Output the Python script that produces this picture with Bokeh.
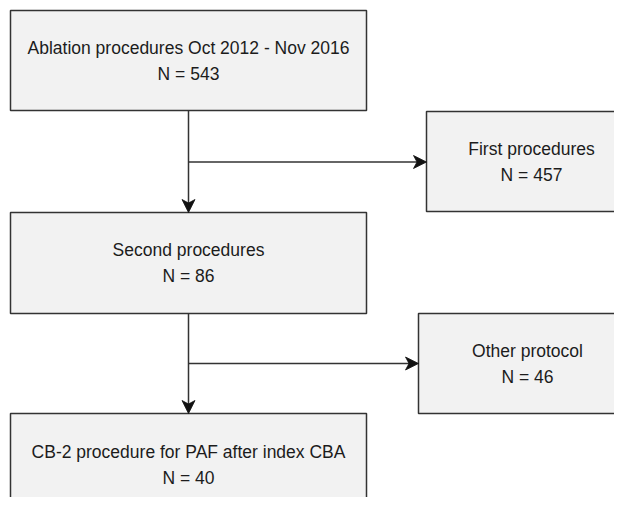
from bokeh.plotting import figure
from bokeh.models import ColumnDataSource, Range1d
from bokeh.core.properties import value
from bokeh.embed import file_html
from bokeh.resources import INLINE

# ---- data ----
titles = [
    "Ablation procedures Oct 2012 - Nov 2016",
    "First procedures",
    "Second procedures",
    "Other protocol",
    "CB-2 procedure for PAF after index CBA",
]
counts = [543, 457, 86, 46, 40]

# ---- layout (pixel-like coordinates, y downward) ----
box_left = [10, 426, 10, 418, 10]
box_right = [366, 628, 366, 628, 366]
box_top = [10, 111, 212, 313, 413]
box_bottom = [110, 211, 313, 413, 513]
text_dx = [0, 4, 0, 4, 0]

FONT_PX = 17.5
LINE_GAP = 13
HEAD_LEN, HEAD_HALF, HEAD_NOTCH = 13, 6.5, 9.5

p = figure(width=614, height=497, output_backend="svg", toolbar_location=None,
           x_range=Range1d(0, 614), y_range=Range1d(497, 0),
           min_border=0, min_border_left=0, min_border_right=0,
           min_border_top=0, min_border_bottom=0)
p.axis.visible = False
p.grid.visible = False
p.outline_line_color = None
p.background_fill_color = "white"
p.border_fill_color = "white"

boxes = ColumnDataSource(dict(left=box_left, right=box_right,
                              top=box_top, bottom=box_bottom))
p.quad(left="left", right="right", top="top", bottom="bottom", source=boxes,
       fill_color="#f2f2f2", line_color="#333333", line_width=1.5)

cx = [(l + r) / 2 + d for l, r, d in zip(box_left, box_right, text_dx)]
cy = [(t + b) / 2 for t, b in zip(box_top, box_bottom)]
cy[4] = box_top[4] + 51

tx, ty, tt = [], [], []
for i in range(len(titles)):
    tx += [cx[i], cx[i]]
    ty += [cy[i] - LINE_GAP, cy[i] + LINE_GAP]
    tt += [titles[i], f"N = {counts[i]}"]

p.text(x=tx, y=ty, text=tt, text_font=value("Liberation Sans"),
       text_font_size=f"{FONT_PX}px", text_align="center",
       text_baseline="middle", text_color="#1c1c1c")

# connectors
trunk_x = 188
y_b1 = (box_top[1] + box_bottom[1]) / 2 + 0.5
y_b3 = (box_top[3] + box_bottom[3]) / 2
links = [
    # (x_start, y_start, x_end, y_end)
    (trunk_x, box_bottom[0], trunk_x, box_top[2]),
    (trunk_x, y_b1, box_left[1], y_b1),
    (trunk_x, box_bottom[2], trunk_x, box_top[4]),
    (trunk_x, y_b3, box_left[3], y_b3),
]
x0s, y0s, x1s, y1s = [], [], [], []
head_xs, head_ys = [], []
for xs, ys, xe, ye in links:
    dx, dy = xe - xs, ye - ys
    L = (dx * dx + dy * dy) ** 0.5
    ux, uy = dx / L, dy / L
    nx, ny = -uy, ux
    x0s.append(xs); y0s.append(ys)
    x1s.append(xe - ux * HEAD_NOTCH); y1s.append(ye - uy * HEAD_NOTCH)
    bx, by = xe - ux * HEAD_LEN, ye - uy * HEAD_LEN
    head_xs.append([xe, bx + nx * HEAD_HALF, xe - ux * HEAD_NOTCH, bx - nx * HEAD_HALF])
    head_ys.append([ye, by + ny * HEAD_HALF, ye - uy * HEAD_NOTCH, by - ny * HEAD_HALF])

p.segment(x0=x0s, y0=y0s, x1=x1s, y1=y1s, line_color="#333333", line_width=1.5)
p.patches(xs=head_xs, ys=head_ys, fill_color="#111111", line_color="#111111",
          line_width=0.8)

open("out.html", "w").write(file_html(p, INLINE))
